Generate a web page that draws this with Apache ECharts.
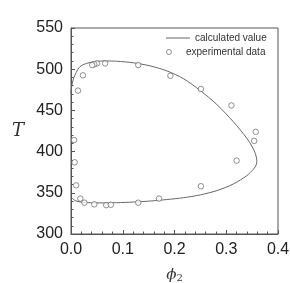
<!DOCTYPE html>
<html><head><meta charset="utf-8">
<script src="https://cdn.jsdelivr.net/npm/echarts@6/dist/echarts.min.js"></script>
<style>html,body{margin:0;padding:0;background:#fff}#c{width:290px;height:283px}</style>
</head><body><div id="c"></div>
<script>
// calculated curve (phi2, T)
const calcPhi = [0.000, 0.001, 0.0045, 0.010, 0.017, 0.030, 0.050, 0.069, 0.088, 0.121, 0.153, 0.185, 0.217, 0.250, 0.282, 0.314, 0.340, 0.350, 0.356, 0.359, 0.358, 0.353, 0.340, 0.314, 0.282, 0.250, 0.217, 0.185, 0.153, 0.121, 0.088, 0.056, 0.024, 0.008, 0.000];
const calcT   = [470, 478, 488, 496, 503, 507, 509.7, 510, 509.7, 507.7, 504, 498, 488.6, 474, 457, 436, 416, 406, 398, 389, 384, 379, 371, 360.8, 352.7, 347.5, 344, 341.8, 340, 338.8, 338, 337.7, 338.5, 340.5, 345];
// experimental data (phi2, T)
const expPhi = [0.006, 0.007, 0.010, 0.018, 0.026, 0.045, 0.068, 0.077, 0.130, 0.170, 0.251, 0.320, 0.354, 0.357, 0.310, 0.251, 0.192, 0.130, 0.066, 0.050, 0.045, 0.041, 0.023, 0.0135];
const expT   = [414, 387, 359, 343, 338, 336, 335, 335.5, 338, 343, 358, 389, 413, 424, 456, 476, 492, 505, 507, 507, 506, 505, 492.6, 474];
const xTicks = [0, 0.1, 0.2, 0.3, 0.4];
const yTicks = [300, 350, 400, 450, 500, 550];

const calc = calcPhi.map((p, i) => [p, calcT[i]]);
const exp = expPhi.map((p, i) => [p, expT[i]]);
const ax = '#555';
const mark = '#666';
const chart = echarts.init(document.getElementById('c'), null, {renderer: 'canvas'});
chart.setOption({
  animation: false,
  textStyle: {fontFamily: 'Liberation Sans, Arial, sans-serif'},
  grid: {left: 71, top: 28, right: 12, bottom: 49, show: true, borderColor: ax, borderWidth: 1, backgroundColor: 'transparent', outerBoundsMode: 'none', containLabel: false},
  legend: [
    {orient: 'vertical', left: 166, top: 33, padding: 0, itemWidth: 24, itemHeight: 1, icon: 'rect',
     itemStyle: {color: mark, borderWidth: 0},
     textStyle: {fontSize: 10, color: '#333'}, data: ['calculated value']},
    {orient: 'vertical', left: 166, top: 47, padding: 0, itemWidth: 24, itemHeight: 5, icon: 'circle',
     itemStyle: {color: '#fff', borderColor: mark, borderWidth: 0.9},
     textStyle: {fontSize: 10, color: '#333'}, data: ['experimental data']}
  ],
  xAxis: {
    type: 'value', min: xTicks[0], max: xTicks[xTicks.length - 1], interval: 0.1,
    name: '{a|ϕ}{b|2}', nameLocation: 'middle', nameGap: 33,
    nameTextStyle: {rich: {a: {fontFamily: 'DejaVu Serif, serif', fontStyle: 'italic', fontSize: 15, color: '#333'}, b: {fontFamily: 'DejaVu Serif, serif', fontSize: 10, color: '#333', padding: [6, 0, 0, 0]}}},
    axisLine: {show: true, lineStyle: {color: ax}},
    axisTick: {show: true, inside: true, length: 4, lineStyle: {color: ax}},
    minorTick: {show: true, splitNumber: 5, length: 2.5, lineStyle: {color: ax}},
    axisLabel: {fontSize: 16, color: '#222', margin: 8, formatter: v => v.toFixed(1)},
    splitLine: {show: false}
  },
  yAxis: {
    type: 'value', min: yTicks[0], max: yTicks[yTicks.length - 1], interval: 50,
    name: 'T', nameLocation: 'middle', nameGap: 47, nameRotate: 0,
    nameTextStyle: {fontFamily: 'DejaVu Serif, serif', fontStyle: 'italic', fontSize: 18, color: '#333'},
    axisLine: {show: true, lineStyle: {color: ax}},
    axisTick: {show: true, inside: true, length: 4, lineStyle: {color: ax}},
    minorTick: {show: true, splitNumber: 5, length: 2.5, lineStyle: {color: ax}},
    axisLabel: {fontSize: 16, color: '#222', margin: 8},
    splitLine: {show: false}
  },
  series: [
    {name: 'calculated value', type: 'line', data: calc, symbol: 'none', smooth: 0.3,
     lineStyle: {color: mark, width: 1}, itemStyle: {color: mark}, z: 2},
    {name: 'experimental data', type: 'scatter', data: exp, symbol: 'circle', symbolSize: 5.5,
     itemStyle: {color: '#fff', borderColor: mark, borderWidth: 0.9}, z: 3}
  ]
});
</script></body></html>
